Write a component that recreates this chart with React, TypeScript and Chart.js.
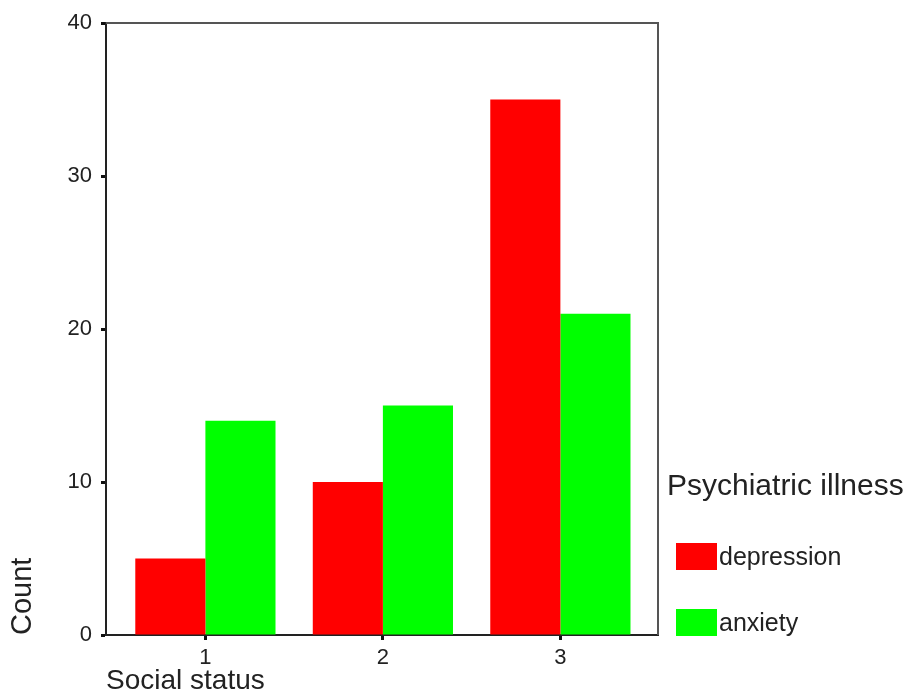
import React, { useEffect, useRef } from "react";
import { Chart, registerables } from "chart.js";

Chart.register(...registerables);

const categories = ["1", "2", "3"];
const depression = [5, 10, 35];
const anxiety = [14, 15, 21];
const seriesLabels = ["depression", "anxiety"];
const seriesColors = ["#ff0000", "#00ff00"];
const yTicks = [0, 10, 20, 30, 40];
const legendTitle = "Psychiatric illness";
const xTitle = "Social status";
const yTitle = "Count";

const FONT = "'Liberation Sans', Arial, sans-serif";

const framePlugin = {
  id: "frame",
  afterDatasetsDraw(chart: any) {
    const { ctx, chartArea } = chart;
    ctx.save();
    ctx.strokeStyle = "#555";
    ctx.lineWidth = 2;
    ctx.beginPath();
    ctx.moveTo(chartArea.left, chartArea.top);
    ctx.lineTo(chartArea.right, chartArea.top);
    ctx.lineTo(chartArea.right, chartArea.bottom);
    ctx.stroke();
    ctx.restore();
  },
};

const legendPlugin = {
  id: "customLegend",
  afterDraw(chart: any) {
    const { ctx, chartArea } = chart;
    const x0 = chartArea.right + 9;
    ctx.save();
    ctx.fillStyle = "#222";
    ctx.textBaseline = "alphabetic";
    ctx.textAlign = "left";
    ctx.font = `30px ${FONT}`;
    ctx.fillText(legendTitle, x0, 495);
    ctx.font = `25px ${FONT}`;
    chart.data.datasets.forEach((ds: any, i: number) => {
      const top = 543 + i * 66;
      ctx.fillStyle = ds.backgroundColor;
      ctx.fillRect(x0 + 9, top, 41, 27);
      ctx.fillStyle = "#222";
      ctx.fillText(ds.label, x0 + 52, top + 22);
    });
    ctx.restore();
  },
};

export default function App() {
  const ref = useRef<HTMLCanvasElement>(null);

  useEffect(() => {
    if (!ref.current) return;
    const chart = new Chart(ref.current, {
      type: "bar",
      data: {
        datasets: [depression, anxiety].map((vals, i) => ({
          label: seriesLabels[i],
          data: vals.map((v, j) => ({ x: j + 1, y: v })),
          backgroundColor: seriesColors[i],
          borderWidth: 0,
          barPercentage: 1,
          categoryPercentage: 0.79,
        })),
      },
      plugins: [framePlugin, legendPlugin],
      options: {
        responsive: false,
        animation: false,
        layout: { padding: { left: 0, right: 251, top: 23, bottom: 0 } },
        plugins: { legend: { display: false }, tooltip: { enabled: false } },
        scales: {
          x: {
            type: "linear",
            min: 0.44,
            max: 3.55,
            offset: false,
            afterFit(scale: any) {
              scale.height = 60;
            },
            afterBuildTicks(scale: any) {
              scale.ticks = categories.map((_, i) => ({ value: i + 1 }));
            },
            ticks: {
              callback: (v: any) => categories[Number(v) - 1] ?? "",
              font: { family: FONT, size: 22 },
              color: "#222",
              padding: 5,
              maxRotation: 0,
            },
            grid: {
              offset: false,
              drawOnChartArea: false,
              drawTicks: true,
              tickLength: 5,
              tickColor: "#111",
              tickWidth: 3,
            },
            border: { display: true, color: "#222", width: 2 },
            title: {
              display: true,
              text: xTitle,
              align: "start",
              font: { family: FONT, size: 28, lineHeight: 1 },
              color: "#222",
              padding: 0,
            },
          },
          y: {
            min: 0,
            max: 40,
            afterFit(scale: any) {
              scale.width = 106;
            },
            afterBuildTicks(scale: any) {
              scale.ticks = yTicks.map((v) => ({ value: v }));
            },
            ticks: {
              font: { family: FONT, size: 22 },
              color: "#222",
              padding: 9,
            },
            grid: {
              drawOnChartArea: false,
              drawTicks: true,
              tickLength: 5,
              tickColor: "#111",
              tickWidth: 3,
            },
            border: { display: true, color: "#222", width: 2 },
            title: {
              display: true,
              text: yTitle,
              align: "start",
              font: { family: FONT, size: 29, lineHeight: 1 },
              color: "#222",
              padding: { top: 8, bottom: 0 },
            },
          },
        },
      },
    } as any);
    return () => chart.destroy();
  }, []);

  return (
    <div style={{ position: "fixed", left: 0, top: 0, width: 909, height: 695, background: "#fff" }}>
      <canvas ref={ref} width={909} height={695} style={{ display: "block" }} />
    </div>
  );
}
